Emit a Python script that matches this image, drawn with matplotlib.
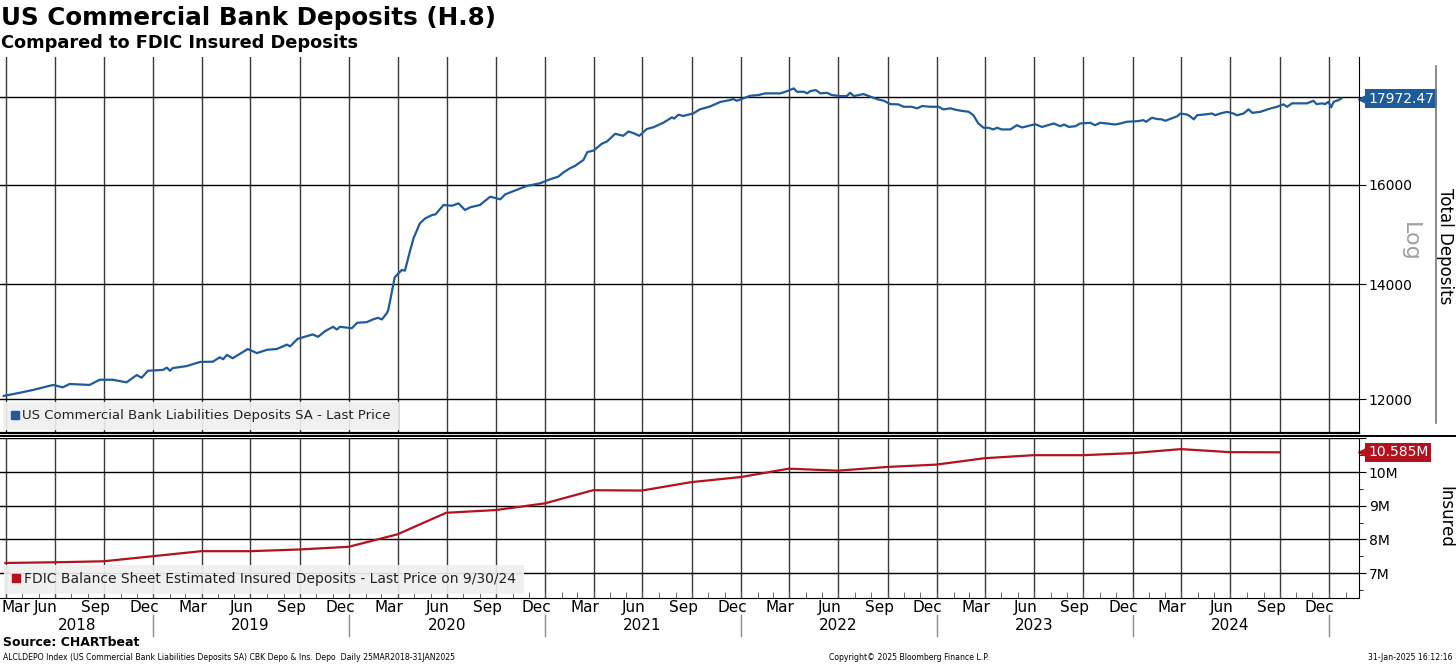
import numpy as np
import pandas as pd
import matplotlib
matplotlib.use('Agg')
import matplotlib.pyplot as plt
import matplotlib.dates as mdates
import matplotlib.ticker as mticker
import matplotlib.transforms as mtrans
from matplotlib.lines import Line2D

plt.rcParams['font.family'] = ['DejaVu Sans']

# H.8 total deposits, $bn
dep_dates = ['2018-03-28', '2018-04-27', '2018-05-21', '2018-06-28', '2018-07-16', '2018-07-29',
             '2018-09-04', '2018-09-23', '2018-10-17', '2018-11-12', '2018-12-01', '2018-12-10',
             '2018-12-22', '2019-01-19', '2019-01-26', '2019-02-01', '2019-02-06', '2019-03-04',
             '2019-03-29', '2019-04-22', '2019-05-05', '2019-05-11', '2019-05-18', '2019-05-29',
             '2019-06-26', '2019-07-13', '2019-08-01', '2019-08-19', '2019-09-07', '2019-09-13',
             '2019-09-27', '2019-10-25', '2019-11-04', '2019-11-17', '2019-12-02', '2019-12-09',
             '2019-12-15', '2020-01-06', '2020-01-16', '2020-02-03', '2020-02-14', '2020-02-24',
             '2020-03-02', '2020-03-11', '2020-03-14', '2020-03-26', '2020-04-08', '2020-04-14',
             '2020-04-24', '2020-04-30', '2020-05-12', '2020-05-22', '2020-06-04', '2020-06-10',
             '2020-06-25', '2020-07-11', '2020-07-23', '2020-08-04', '2020-08-14', '2020-09-01',
             '2020-09-20', '2020-10-09', '2020-10-18', '2020-11-08', '2020-11-27', '2020-12-22',
             '2021-01-10', '2021-01-25', '2021-02-04', '2021-02-16', '2021-02-25', '2021-03-13',
             '2021-03-20', '2021-04-01', '2021-04-16', '2021-04-26', '2021-05-11', '2021-05-26',
             '2021-06-05', '2021-06-14', '2021-06-25', '2021-07-09', '2021-07-21', '2021-08-09',
             '2021-08-25', '2021-08-29', '2021-09-06', '2021-09-15', '2021-10-04', '2021-10-16',
             '2021-11-04', '2021-11-23', '2021-12-11', '2021-12-17', '2021-12-24', '2022-01-05',
             '2022-01-18', '2022-02-02', '2022-02-15', '2022-03-15', '2022-03-28', '2022-04-09',
             '2022-04-15', '2022-04-28', '2022-05-04', '2022-05-10', '2022-05-20', '2022-05-29',
             '2022-06-10', '2022-06-19', '2022-07-05', '2022-07-17', '2022-07-23', '2022-07-30',
             '2022-08-17', '2022-08-27', '2022-09-11', '2022-09-24', '2022-10-06', '2022-10-21',
             '2022-10-31', '2022-11-15', '2022-11-25', '2022-12-04', '2022-12-20', '2023-01-04',
             '2023-01-13', '2023-01-26', '2023-02-07', '2023-02-19', '2023-03-01', '2023-03-10',
             '2023-03-19', '2023-03-29', '2023-04-07', '2023-04-16', '2023-04-23', '2023-05-02',
             '2023-05-18', '2023-05-30', '2023-06-09', '2023-06-18', '2023-07-03', '2023-07-16',
             '2023-08-07', '2023-08-19', '2023-08-26', '2023-09-04', '2023-09-16', '2023-09-25',
             '2023-10-14', '2023-10-23', '2023-11-01', '2023-11-14', '2023-11-29', '2023-12-09',
             '2023-12-21', '2024-01-12', '2024-01-21', '2024-01-26', '2024-02-06', '2024-02-15',
             '2024-02-24', '2024-03-02', '2024-03-24', '2024-03-30', '2024-04-11', '2024-04-17',
             '2024-04-24', '2024-04-30', '2024-05-19', '2024-05-28', '2024-06-03', '2024-06-12',
             '2024-06-25', '2024-07-07', '2024-07-13', '2024-07-26', '2024-08-04', '2024-08-11',
             '2024-08-26', '2024-09-10', '2024-09-26', '2024-10-08', '2024-10-15', '2024-10-24',
             '2024-11-21', '2024-12-03', '2024-12-09', '2024-12-19', '2024-12-25', '2024-12-31',
             '2025-01-05', '2025-01-10', '2025-01-19', '2025-01-24']
dep_vals = [12050, 12101, 12146, 12229, 12190, 12245,
            12229, 12315, 12315, 12272, 12393, 12348,
            12465, 12478, 12517, 12465, 12509, 12543,
            12613, 12618, 12693, 12658, 12733, 12676,
            12834, 12764, 12821, 12834, 12910, 12880,
            13011, 13088, 13046, 13145, 13223, 13175,
            13223, 13198, 13295, 13306, 13354, 13384,
            13354, 13463, 13525, 14133, 14272, 14260,
            14661, 14893, 15197, 15299, 15368, 15380,
            15576, 15560, 15610, 15471, 15528, 15576,
            15750, 15695, 15800, 15893, 15979, 16037,
            16124, 16181, 16277, 16365, 16415, 16550,
            16723, 16760, 16912, 16965, 17140, 17094,
            17193, 17156, 17094, 17250, 17290, 17398,
            17524, 17493, 17586, 17555, 17618, 17713,
            17780, 17890, 17935, 17959, 17918, 17976,
            18039, 18056, 18097, 18097, 18153, 18219,
            18136, 18136, 18097, 18153, 18177, 18097,
            18111, 18056, 18032, 18032, 18111, 18032,
            18080, 18032, 17959, 17918, 17838, 17831,
            17774, 17774, 17736, 17791, 17774, 17774,
            17712, 17736, 17696, 17672, 17656, 17575,
            17383, 17279, 17279, 17241, 17279, 17241,
            17241, 17339, 17286, 17315, 17363, 17299,
            17379, 17315, 17355, 17299, 17315, 17379,
            17395, 17339, 17395, 17379, 17355, 17379,
            17419, 17435, 17459, 17419, 17516, 17484,
            17476, 17443, 17549, 17614, 17590, 17549,
            17476, 17573, 17598, 17614, 17573, 17614,
            17653, 17614, 17573, 17614, 17712, 17630,
            17653, 17719, 17774, 17831, 17774, 17856,
            17856, 17918, 17838, 17856, 17838, 17894,
            17760, 17894, 17935, 17972.47]

# FDIC estimated insured deposits, quarterly, $ millions (shown as M on axis)
ins_dates = pd.date_range('2018-03-31', '2024-09-30', freq='QE')
ins_vals = [7.30, 7.32, 7.35, 7.50, 7.65, 7.65, 7.70, 7.78, 8.15, 8.79, 8.87, 9.07,
            9.46, 9.45, 9.70, 9.85, 10.10, 10.04, 10.15, 10.22, 10.41, 10.50, 10.50,
            10.56, 10.68, 10.59, 10.585]

BLUE = '#1d5b9b'
RED = '#b4111e'
W, H = 1456, 665

dep_dates = pd.to_datetime(dep_dates)
x_start, x_end = pd.Timestamp('2018-03-21'), pd.Timestamp('2025-02-26')

fig = plt.figure(figsize=(W / 100, H / 100), dpi=100)
ax1 = fig.add_axes([0, 1 - 433 / H, 1359 / W, 376 / H])
ax2 = fig.add_axes([0, 1 - 598 / H, 1359 / W, 160 / H], sharex=ax1)

ax1.plot(dep_dates, dep_vals, color=BLUE, lw=1.6)
ax2.plot(ins_dates, ins_vals, color=RED, lw=1.6)

ax1.set_xlim(x_start, x_end)

# quarter gridlines
for ax in (ax1, ax2):
    for d in pd.date_range('2018-04-01', '2025-01-01', freq='QS'):
        ax.axvline(d, color='#3a3a3a', lw=1, zorder=0)
    for s in ('left', 'top'):
        ax.spines[s].set_visible(False)
    ax.spines['right'].set_color('black')
    ax.yaxis.tick_right()

# top panel: log axis
ax1.set_yscale('log')
ax1.set_ylim(11464, 19004)
ax1.yaxis.set_major_locator(mticker.FixedLocator([12000, 14000, 16000, 18000]))
ax1.yaxis.set_major_formatter(mticker.FuncFormatter(lambda v, p: '' if v >= 18000 else f'{v:.0f}'))
ax1.yaxis.set_minor_locator(mticker.NullLocator())
ax1.grid(axis='y', color='black', lw=1)
ax1.tick_params(axis='y', direction='out', length=5, labelsize=10, pad=2)
ax1.tick_params(axis='x', which='both', length=0, labelbottom=False)
ax1.spines['bottom'].set_linewidth(1.6)

# bottom panel
ax2.set_ylim(6.26, 11.01)
ax2.yaxis.set_major_locator(mticker.FixedLocator([7, 8, 9, 10, 11]))
ax2.yaxis.set_major_formatter(mticker.FuncFormatter(lambda v, p: '' if v > 10.5 else f'{v:.0f}M'))
ax2.yaxis.set_minor_locator(mticker.MultipleLocator(0.5))
ax2.grid(axis='y', color='black', lw=1)
ax2.tick_params(axis='y', which='major', direction='out', length=5, labelsize=10, pad=2)
ax2.tick_params(axis='y', which='minor', direction='out', length=3)

ax2.xaxis.set_major_locator(mdates.MonthLocator(bymonth=(3, 6, 9, 12), bymonthday=15))
ax2.xaxis.set_major_formatter(mdates.DateFormatter('%b'))
ax2.xaxis.set_minor_locator(mdates.MonthLocator())
ax2.tick_params(axis='x', which='major', length=0, labelsize=11, pad=1.5)
ax2.tick_params(axis='x', which='minor', direction='in', length=4, color='#555')
xt = ax2.get_xaxis_transform()
ax2.annotate('Mar', xy=(mdates.date2num(x_start), 0), xycoords=xt, xytext=(1, -1.5),
             textcoords='offset points', ha='left', va='top', fontsize=11)

# year labels and separators
years = [2018, 2019, 2020, 2021, 2022, 2023, 2024]
for y in years:
    if y == 2018:
        mid = x_start + (pd.Timestamp('2019-01-01') - x_start) / 2
    else:
        mid = pd.Timestamp(f'{y}-07-01')
    ax2.text(mdates.date2num(mid), -0.17, str(y), transform=xt, ha='center', va='center', fontsize=11)
for y in range(2019, 2026):
    ax2.plot([pd.Timestamp(f'{y}-01-01')] * 2, [-0.105, -0.235], transform=xt,
             color='#8a8a8a', lw=1, clip_on=False)

# legends
leg1 = ax1.legend(handles=[Line2D([], [], marker='s', ls='none', color=BLUE, ms=6)],
                  labels=['US Commercial Bank Liabilities Deposits SA - Last Price'],
                  loc='lower left', borderaxespad=0.2, fancybox=False, frameon=True,
                  facecolor='#efefef', edgecolor='none', framealpha=0.92, fontsize=9.5,
                  handlelength=0.6, handletextpad=0.3, borderpad=0.6)
leg1.get_texts()[0].set_color('#222222')
leg2 = ax2.legend(handles=[Line2D([], [], marker='s', ls='none', color=RED, ms=6)],
                  labels=['FDIC Balance Sheet Estimated Insured Deposits - Last Price on 9/30/24'],
                  loc='lower left', borderaxespad=0.3, fancybox=False, frameon=True,
                  facecolor='#efefef', edgecolor='none', framealpha=0.92, fontsize=10,
                  handlelength=0.6, handletextpad=0.3, borderpad=0.55)
leg2.get_texts()[0].set_color('#222222')


# last value tags
def tag(ax, val, text, color):
    tr = ax.get_yaxis_transform()
    ax.annotate(text, xy=(1, val), xycoords=tr, xytext=(6.5, 0), textcoords='offset points',
                ha='left', va='center', color='white', fontsize=10,
                bbox=dict(boxstyle='square,pad=0.2', fc=color, ec='none'), annotation_clip=False)
    off = mtrans.ScaledTranslation(3 / 72, 0, fig.dpi_scale_trans)
    ax.plot([1], [val], marker='<', ms=7, color=color, transform=tr + off, clip_on=False)


tag(ax1, dep_vals[-1], f'{dep_vals[-1]:.2f}', BLUE)
tag(ax2, ins_vals[-1], f'{ins_vals[-1]:.3f}M', RED)

# separator double line
fig.add_artist(Line2D([0, 1], [1 - 436 / H] * 2, color='black', lw=1.4))

# right-side axis titles
fig.text(1410 / W, 1 - 242 / H, 'Log', rotation=270, color='#a0a0a0', fontsize=16,
         ha='center', va='center')
fig.text(1445 / W, 1 - 246 / H, 'Total Deposits', rotation=270, fontsize=12,
         ha='center', va='center')
fig.add_artist(Line2D([1436 / W] * 2, [1 - 66 / H, 1 - 423 / H], color='#777777', lw=1.2))
fig.text(1445 / W, 1 - 517 / H, 'Insured', rotation=270, fontsize=12, ha='center', va='center')

# titles and footer
fig.text(0.001, 1 - 18 / H, 'US Commercial Bank Deposits (H.8)', fontsize=17.7,
         fontweight='bold', ha='left', va='center')
fig.text(0.001, 1 - 43 / H, 'Compared to FDIC Insured Deposits', fontsize=12.8,
         fontweight='bold', ha='left', va='center')
fig.text(3 / W, 1 - 643 / H, 'Source: CHARTbeat', fontsize=9, fontweight='bold',
         ha='left', va='center')
fig.text(3 / W, 1 - 658 / H,
         'ALCLDEPO Index (US Commercial Bank Liabilities Deposits SA) CBK Depo & Ins. Depo  Daily 25MAR2018-31JAN2025',
         fontsize=5.6, ha='left', va='center')
fig.text(909 / W, 1 - 658 / H, 'Copyright\u00a9 2025 Bloomberg Finance L.P.', fontsize=5.6,
         ha='center', va='center')
fig.text(1452 / W, 1 - 658 / H, '31-Jan-2025 16:12:16', fontsize=5.6, ha='right', va='center')

fig.savefig('out.png', dpi=100)
